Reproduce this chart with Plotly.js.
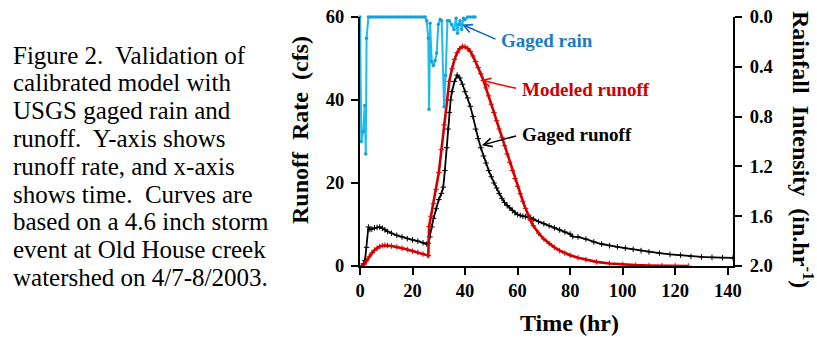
<!DOCTYPE html>
<html>
<head>
<meta charset="utf-8">
<script src="https://cdn.plot.ly/plotly-3.0.1.min.js"></script>
<style>html,body{margin:0;padding:0;background:#fff;}#chart{width:817px;height:337px;}</style>
</head>
<body>
<div id="chart"></div>
<script>
// Gaged rain (hr, in./hr) - plotted on reversed right axis
const rainTime = [0,0.5,1.2,1.8,2.2,2.5,3.2,4,5,6,7,8,9,10,11,12,13,14,15,16,17,18,19,20,21,22,23,24,24.8,25.4,26.0,26.3,26.7,27.3,27.9,28.6,29.2,29.8,30.5,31.1,32.0,32.6,33.3,34.0,34.9,35.8,36.6,37.1,37.6,38.1,38.7,39.4,40,41,42,43,43.8];
const rainIntensity = [0,1.0,0.92,0.71,1.1,0.17,0,0,0,0,0,0,0,0,0,0,0,0,0,0,0,0,0,0,0,0,0,0,0,0.03,0.17,0.74,0.05,0.36,0.39,0.35,0.29,0.06,0.02,0.03,0.72,0.47,0.03,0.03,0.06,0.10,0.01,0.13,0.06,0.03,0.10,0.01,0.02,0,0,0,0];

// Modeled runoff (hr, cfs)
const modelTime = [0.6,1.5,2.5,3.5,4.5,5.5,6.5,7.5,8.5,9.5,10.5,12,14,16,18,20,22,24,25.8,26.0,26.3,27,28,29,30,31,32,33,34,35,36,37,38,39,40,41,42,43,44,45,46,47,48,49,50,51,52,53,54,55,56,57,58,59,60,61,62,63,64,65,66,68,70,72,74,76,78,80,83,86,90,95,100,105,110,115,120,125];
const modelRunoff = [0,0.3,1.2,2.2,3.1,3.8,4.3,4.7,4.9,5.0,4.95,4.8,4.6,4.3,4.0,3.6,3.3,2.9,2.6,2.5,9.5,12.0,15.0,18.5,22.5,28.0,34.0,40.0,44.5,47.5,49.8,51.4,52.4,52.9,52.8,52.4,51.7,50.6,49.3,47.8,46.3,44.7,42.9,41.0,39.0,37.0,35.0,33.0,31.0,29.0,27.0,25.0,23.0,21.1,19.2,17.4,15.6,13.9,12.3,10.9,9.7,7.9,6.5,5.4,4.5,3.7,3.1,2.6,2.0,1.5,1.0,0.6,0.35,0.2,0.1,0.05,0.02,0];

// Gaged runoff (hr, cfs)
const gagedTime = [0.6,1.3,1.9,2.5,3.2,3.8,4.5,5.5,6.5,7.5,8.5,9.5,10.5,12,14,16,18,20,22,24,25.4,26,26.6,27.3,28,29,30,31,31.7,32.3,33,33.5,34,34.5,35,36,37,38,39,40,41,42,43,44,45,46,47,48,49,50,51,52,53,54,55,56,57,58,59,60,61,62,63,64,65,66,68,70,72,74,76,78,80,81,83,86,89,92,95,98,101,104,107,110,114,118,122,126,130,134,138,142];
const gagedRunoff = [0,0.5,1.3,4.5,9.4,8.8,8.9,9.2,9.3,9.4,9.1,8.7,8.3,7.9,7.4,7.0,6.6,6.3,6.0,5.6,5.3,5.5,7.0,9.4,11.5,13.8,16.0,17.5,19.0,23.0,28.5,33.0,37.0,40.0,42.0,44.5,46.0,45.3,43.8,42.0,40.5,38.5,36.0,33.0,30.7,28.5,26.5,24.8,23.0,21.5,20.0,18.8,17.5,16.3,15.3,14.6,14.0,13.4,12.8,12.4,12.2,12.0,11.9,11.8,11.6,11.3,10.7,10.2,9.7,9.2,8.7,8.2,7.7,7.1,7.0,6.5,5.8,5.3,4.9,4.6,4.3,4.0,3.7,3.4,3.1,2.8,2.6,2.3,2.2,2.1,2.0,1.95];

const captionLines = [
  "Figure 2.\u00A0 Validation of",
  "calibrated model with",
  "USGS gaged rain and",
  "runoff.\u00A0 Y-axis shows",
  "runoff rate, and x-axis",
  "shows time.\u00A0 Curves are",
  "based on a 4.6 inch storm",
  "event at Old House creek",
  "watershed on 4/7-8/2003."
];

const SERIF = '"Liberation Serif", serif';
const L = 360, R = 84, T = 17, B = 71, W = 817, H = 337;
const pw = W - L - R, ph = H - T - B;
const px2paper = px => (px - L) / pw;
const py2paper = py => (H - B - py) / ph;

const traces = [
  {
    x: gagedTime, y: gagedRunoff, type: 'scatter', mode: 'lines+markers',
    line: {color: '#000000', width: 1.8},
    marker: {symbol: 'cross-thin', size: 4, line: {color: '#000000', width: 1}},
    hoverinfo: 'skip', showlegend: false
  },
  {
    x: modelTime, y: modelRunoff, type: 'scatter', mode: 'lines+markers',
    line: {color: '#cc0000', width: 2.6},
    marker: {symbol: 'cross-thin', size: 4, color: '#cc0000', line: {color: '#dd0000', width: 1}},
    hoverinfo: 'skip', showlegend: false
  },
  {
    x: rainTime, y: rainIntensity, type: 'scatter', mode: 'lines+markers', yaxis: 'y2',
    line: {color: '#1cbcf0', width: 2},
    marker: {symbol: 'circle', size: 3.5, color: '#1a9fd4'},
    cliponaxis: false,
    hoverinfo: 'skip', showlegend: false
  }
];

const annotations = [];
captionLines.forEach((t, i) => {
  annotations.push({
    xref: 'paper', yref: 'paper', x: px2paper(11), y: py2paper(55 + 27.8 * i),
    xanchor: 'left', yanchor: 'middle', showarrow: false, text: t,
    font: {family: SERIF, size: 25, color: '#000'}
  });
});
// axis titles
annotations.push({xref:'paper', yref:'paper', x: px2paper(300), y: py2paper(130), textangle: -90,
  showarrow:false, xanchor:'center', yanchor:'middle',
  text: 'Runoff\u00A0 Rate\u00A0 (cfs)', font:{family:SERIF, size:24, weight:'bold', color:'#000'}});
annotations.push({xref:'paper', yref:'paper', x: px2paper(803), y: py2paper(149), textangle: 90,
  showarrow:false, xanchor:'center', yanchor:'middle',
  text: 'Rainfall\u00A0 Intensity\u00A0 (in.hr<sup>-1</sup>)', font:{family:SERIF, size:24, weight:'bold', color:'#000'}});
annotations.push({xref:'paper', yref:'paper', x: px2paper(569), y: py2paper(323),
  showarrow:false, xanchor:'center', yanchor:'middle',
  text: 'Time (hr)', font:{family:SERIF, size:24, weight:'bold', color:'#000'}});
// series labels with arrows (tail at left edge of label)
function label(text, color, arrowColor, tx, ty, hx, hy) {
  annotations.push({xref:'x', yref:'y', axref:'x', ayref:'y', x: hx, y: hy, ax: tx, ay: ty,
    xanchor:'left', yanchor:'middle', text: text, showarrow: true,
    arrowhead: 5, arrowsize: 1.1, arrowwidth: 1.5, arrowcolor: arrowColor, startstandoff: 4,
    font: {family: SERIF, size: 19, weight: 'bold', color: color}});
}
label('Gaged rain', '#1a7cc9', '#1565c0', 53.0, 54.3, 38.8, 58.2);
label('Modeled runoff', '#cc0000', '#ff0000', 60.9, 42.6, 45.9, 44.8);
label('Gaged runoff', '#000000', '#000000', 60.9, 31.6, 46.4, 29.1);

const layout = {
  width: W, height: H,
  margin: {l: L, r: R, t: T, b: B, pad: 0},
  paper_bgcolor: '#fff', plot_bgcolor: '#fff',
  showlegend: false,
  font: {family: SERIF, color: '#000'},
  xaxis: {
    range: [0, 142], tickvals: [0,20,40,60,80,100,120,140], showgrid: false, zeroline: false,
    showline: true, linecolor: '#000', linewidth: 2, ticks: 'outside', ticklen: 7, tickwidth: 2, tickcolor: '#000',
    tickfont: {family: SERIF, size: 18.5, weight: 'bold', color: '#000'}
  },
  yaxis: {
    range: [0, 60], tickvals: [0,20,40,60], showgrid: false, zeroline: false,
    showline: true, linecolor: '#000', linewidth: 2, ticks: 'outside', ticklen: 7, tickwidth: 2, tickcolor: '#000',
    ticklabelstandoff: 3,
    tickfont: {family: SERIF, size: 18.5, weight: 'bold', color: '#000'}
  },
  yaxis2: {
    overlaying: 'y', side: 'right', range: [2, 0], tickvals: [0,0.4,0.8,1.2,1.6,2.0], tickformat: '.1f',
    showgrid: false, zeroline: false,
    showline: true, linecolor: '#000', linewidth: 2, ticks: 'outside', ticklen: 7, tickwidth: 2, tickcolor: '#000',
    ticklabelstandoff: 4,
    tickfont: {family: SERIF, size: 18.5, weight: 'bold', color: '#000'}
  },
  annotations: annotations
};

Plotly.newPlot('chart', traces, layout, {displayModeBar: false, staticPlot: true});
</script>
</body>
</html>
